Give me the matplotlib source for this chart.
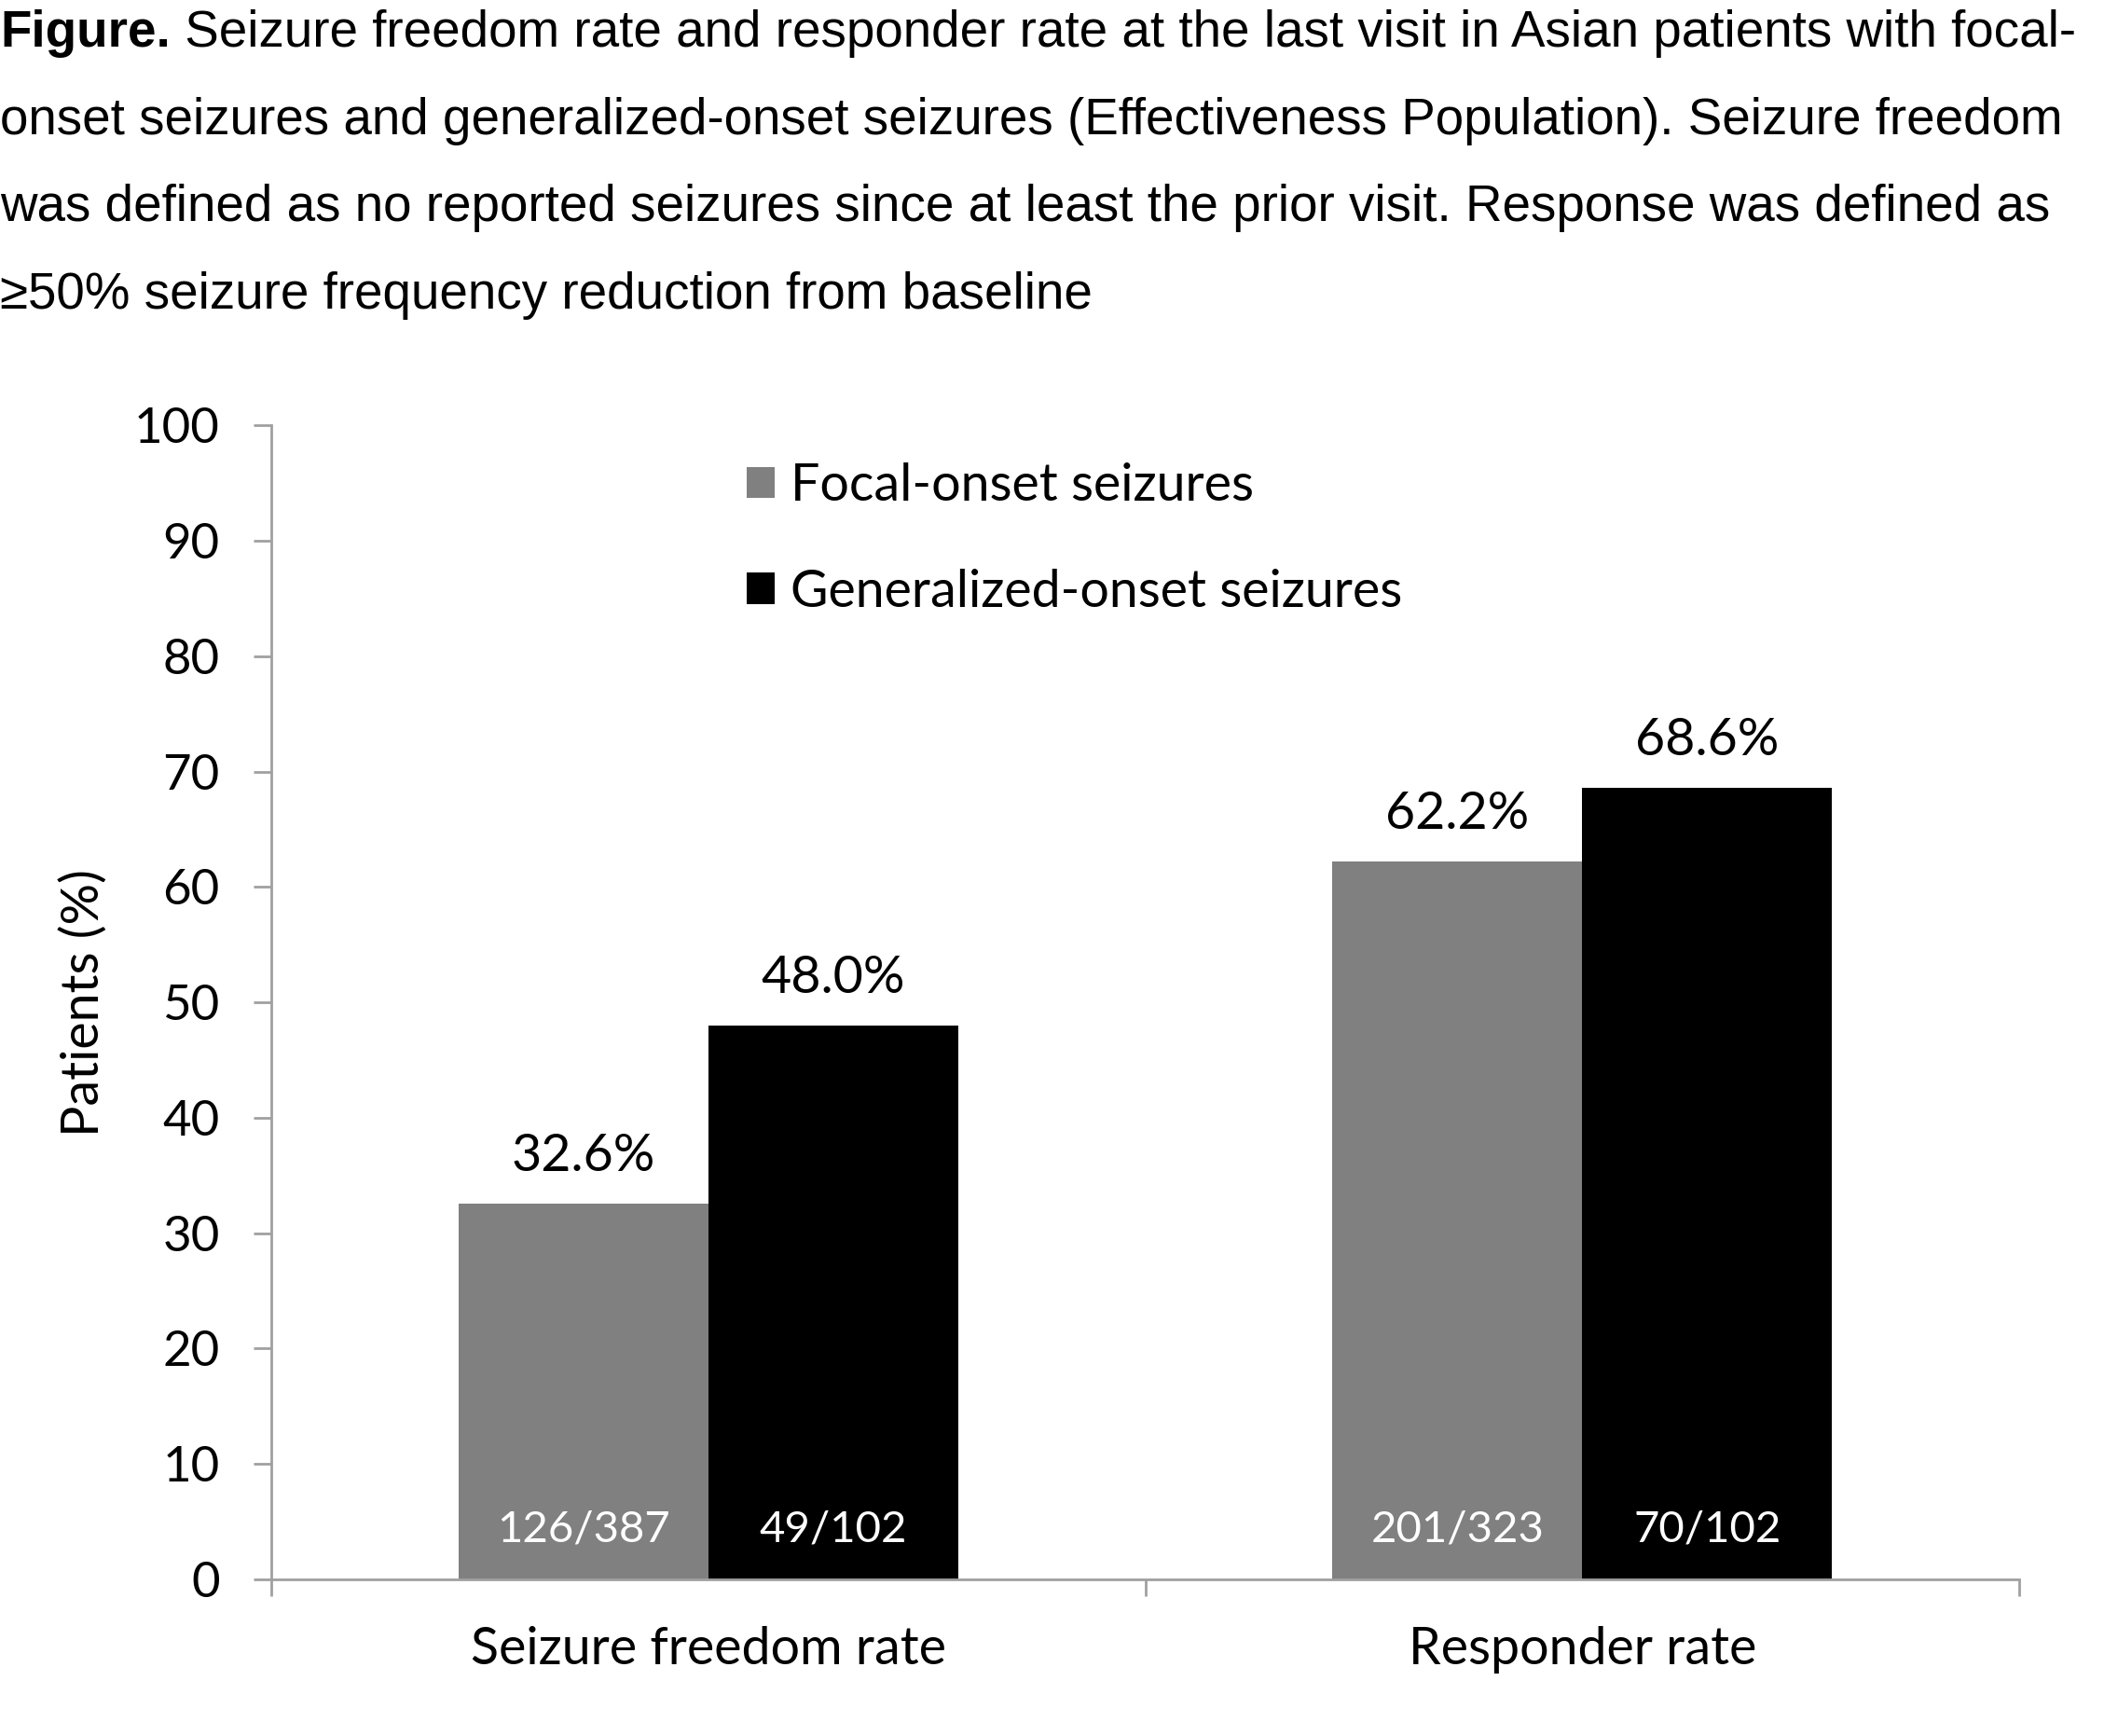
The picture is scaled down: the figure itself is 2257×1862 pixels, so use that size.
import matplotlib
matplotlib.use('Agg')
import matplotlib.pyplot as plt
import numpy as np

# 数据
categories = ['Seizure freedom rate', 'Responder rate']
series_names = ['Focal-onset seizures', 'Generalized-onset seizures']
focal_vals = [32.6, 62.2]
general_vals = [48.0, 68.6]
focal_counts = ['126/387', '201/323']
general_counts = ['49/102', '70/102']
y_ticks = [0, 10, 20, 30, 40, 50, 60, 70, 80, 90, 100]

caption_bold = 'Figure.'
caption_lines = [
    ' Seizure freedom rate and responder rate at the last visit in Asian patients with focal-',
    'onset seizures and generalized-onset seizures (Effectiveness Population). Seizure freedom',
    'was defined as no reported seizures since at least the prior visit. Response was defined as',
    '\u226550% seizure frequency reduction from baseline',
]

chart_font = 'Lato'
cap_font = 'Liberation Sans'
axis_gray = '#a0a0a0'

fig = plt.figure(figsize=(22.57, 18.62), dpi=100)
ax = fig.add_axes([0.129, 0.0902, 0.8307, 0.6648])

x = np.arange(len(categories))
w = 0.286
b1 = ax.bar(x - w / 2, focal_vals, w, color='#808080', label=series_names[0])
b2 = ax.bar(x + w / 2, general_vals, w, color='#000000', label=series_names[1])

# 柱顶数值
for bars, vals in [(b1, focal_vals), (b2, general_vals)]:
    for r, v in zip(bars, vals):
        ax.annotate('%.1f%%' % v, (r.get_x() + r.get_width() / 2, v),
                    xytext=(0, 18), textcoords='offset points',
                    ha='center', va='bottom', fontsize=40, family=chart_font)
# 柱内人数
for bars, cnts in [(b1, focal_counts), (b2, general_counts)]:
    for r, c in zip(bars, cnts):
        ax.text(r.get_x() + r.get_width() / 2, 4.3, c, ha='center', va='center',
                fontsize=34, color='white', family=chart_font)

ax.set_xlim(-0.5, 1.5)
ax.set_ylim(0, 100)
ax.set_yticks(y_ticks)
ax.set_yticklabels([str(t) for t in y_ticks], fontsize=38, family=chart_font)
ax.set_xticks([-0.5, 0.5, 1.5])
ax.set_xticklabels([])
ax.set_xticks(x, minor=True)
ax.set_xticklabels(categories, minor=True, fontsize=40, family=chart_font)
ax.tick_params(axis='x', which='minor', length=0, pad=36)
ax.tick_params(axis='x', which='major', length=13, width=2, color=axis_gray, direction='out')
ax.tick_params(axis='y', length=14, width=2, color=axis_gray, direction='out', pad=26)

for s in ['top', 'right']:
    ax.spines[s].set_visible(False)
for s in ['left', 'bottom']:
    ax.spines[s].set_color(axis_gray)
    ax.spines[s].set_linewidth(2)

ax.set_ylabel('Patients (%)', fontsize=40, family=chart_font, labelpad=20)

leg = ax.legend(loc='upper left', bbox_to_anchor=(0.245, 1.008), frameon=False,
                prop={'family': chart_font, 'size': 40}, handlelength=0.55,
                handleheight=0.55, handletextpad=0.3, labelspacing=1.12)

# 标题说明
ybase = [1 - 36 / 1862, 1 - 130 / 1862, 1 - 223 / 1862, 1 - 317 / 1862]
tb = fig.text(0.0, ybase[0], caption_bold, fontsize=39.4, fontweight='bold',
              family=cap_font, va='center', ha='left')
fig.canvas.draw()
ext = tb.get_window_extent()
fig.text(ext.x1 / fig.bbox.width, ybase[0], caption_lines[0], fontsize=39.4,
         family=cap_font, va='center', ha='left')
for yy, line in zip(ybase[1:], caption_lines[1:]):
    fig.text(0.0, yy, line, fontsize=39.4, family=cap_font, va='center', ha='left')

fig.savefig('out.png', dpi=100)
